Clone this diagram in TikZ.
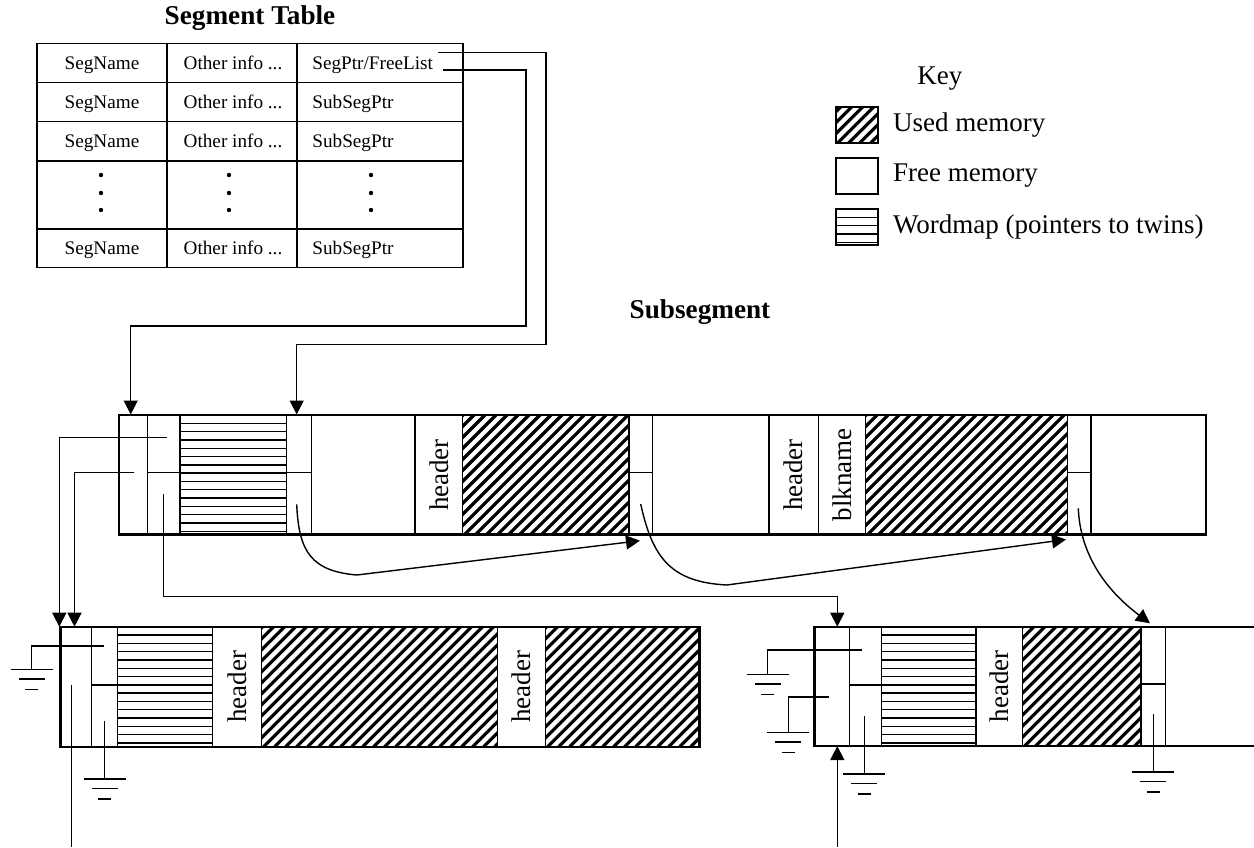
\documentclass[tikz,border=0pt]{standalone}
\usepackage{fontspec}
\setmainfont{Liberation Serif}
\usetikzlibrary{arrows.meta,calc}
% hatched block of used memory: x1 y1 x2 y2 (y2 = lower edge)
\newcommand{\usedmem}[4]{%
  \begin{scope}
    \clip (#1,#2) rectangle (#3,#4);
    \foreach \i in {0,...,40}
      \draw[line width=1.6pt] ({#1-130+11*\i},#4) -- ++(140,-140);
  \end{scope}}
% wordmap lines: x1 y1 x2 count
\newcommand{\wordmap}[4]{%
  \foreach \i in {1,...,#4}
    \draw[line width=0.7pt] (#1,{#2+8.3*\i}) -- (#3,{#2+8.3*\i});}
% ground symbol below a coordinate
\newcommand{\gnd}[1]{%
  \draw[line width=0.7pt] ($(#1)+(-21,0)$) -- ++(42,0)
        ($(#1)+(-13,9.5)$) -- ++(26,0)
        ($(#1)+(-6.5,20)$) -- ++(13,0);}

\begin{document}
\begin{tikzpicture}[x=0.5pt,y=-0.5pt,
    tbl/.style={font=\fontsize{9.6}{11}\selectfont,inner sep=1pt,anchor=base},
    keytxt/.style={font=\fontsize{13.5}{15}\selectfont,anchor=west,inner sep=0pt},
    ttl/.style={font=\fontsize{13.6}{15}\selectfont\bfseries},
    hdr/.style={rotate=90,font=\fontsize{13.5}{15}\selectfont,inner sep=0pt},
    box/.style={line width=1.2pt},
    cell/.style={line width=0.7pt},
    ptr/.style={line width=0.7pt},
    arr/.style={ptr,-{Triangle[length=7pt,width=7pt]}},
    dot/.style={circle,fill,inner sep=0pt,minimum size=2.2pt}]
  \useasboundingbox (0,0) rectangle (1254,847);

  % ---------------- segment table ----------------
  \node[ttl] (segtitle) at (250,18) {Segment Table};
  \draw[cell] (37,43.5) rectangle (463,267.5);
  \foreach \y in {82.5,121.7,160.8,229} \draw[cell] (37,\y) -- (463,\y);
  \foreach \x in {167,297} \draw[cell] (\x,43.5) -- (\x,267.5);
  \foreach \r/\y in {1/69,2/108,3/147.5,5/254.5} {
    \node[tbl] (nm\r) at (102,\y) {SegName};
    \node[tbl] (oi\r) at (233,\y) {Other info ...};
  }
  \node[tbl,anchor=base west] (fl) at (310,69) {SegPtr/FreeList};
  \foreach \r/\y in {2/108,3/147.5,5/254.5}
    \node[tbl,anchor=base west] (sp\r) at (310,\y) {SubSegPtr};
  \foreach \x in {101,229,371}
    \foreach \y in {175,193,210}
      \node[dot] (d\x-\y) at (\x,\y) {};

  % ---------------- key ----------------
  \node[keytxt] (keyttl) at (917,79) {Key};
  \usedmem{835.7}{107}{877.7}{143}
  \draw[line width=1pt] (835.7,107) rectangle (877.7,143);
  \node[keytxt] (kused) at (892.7,125) {Used memory};
  \draw[line width=1pt] (835.7,158) rectangle (877.7,194);
  \node[keytxt] (kfree) at (892.7,176) {Free memory};
  \wordmap{835.7}{209}{877.7}{4}
  \draw[line width=1pt] (835.7,209) rectangle (877.7,245);
  \node[keytxt] (kword) at (892.7,227) {Wordmap (pointers to twins)};

  % ---------------- subsegment ----------------
  \node[ttl] (subtitle) at (700,312) {Subsegment};
  \wordmap{180}{415}{286.7}{14}
  \usedmem{462.7}{415}{629}{534.3}
  \usedmem{865.7}{415}{1067.3}{534.3}
  \foreach \x in {147.3,180,286.7,311.7,415,462.7,629,652.3,769,818.3,865.7,1067.3,1091}
    \draw[cell] (\x,415) -- (\x,534.3);
  \foreach \xa/\xb in {147.3/180,286.7/311.7,629/652.3,1067.3/1091}
    \draw[cell] (\xa,472.7) -- (\xb,472.7);
  \draw[box] (119,415) rectangle (1205.7,534.3);
  \node[hdr] (h1) at (438.8,475) {header};
  \node[hdr] (h2) at (793.6,475) {header};
  \node[hdr] (bn) at (842,475) {blkname};

  % ---------------- lower left subsegment ----------------
  \wordmap{117.7}{626.7}{212.7}{14}
  \usedmem{261.7}{626.7}{497.3}{746.7}
  \usedmem{545.7}{626.7}{699.3}{746.7}
  \foreach \x in {91.3,117.7,212.7,261.7,497.3,545.7}
    \draw[cell] (\x,626.7) -- (\x,746.7);
  \draw[cell] (91.3,685) -- (117.7,685);
  \draw[box] (60.3,626.7) rectangle (699.3,746.7);
  \node[hdr] (h3) at (237.2,686.7) {header};
  \node[hdr] (h4) at (521.5,686.7) {header};

  % ---------------- lower right subsegment ----------------
  \wordmap{881.7}{626.7}{976}{14}
  \usedmem{1022.7}{626.7}{1141}{746}
  \foreach \x in {849.3,881.7,976,1022.7,1141,1165.7}
    \draw[cell] (\x,626.7) -- (\x,746);
  \draw[cell] (849.3,685) -- (881.7,685);
  \draw[cell] (1141,684) -- (1165.7,684);
  \draw[box] (1256,626.7) -- (814.3,626.7) -- (814.3,746) -- (1256,746);
  \node[hdr] (h5) at (999.3,686.3) {header};

  % ---------------- pointers ----------------
  \coordinate (flA) at (438,52.7);
  \coordinate (flB) at (443,70);
  \coordinate (tA) at (130.7,414.5);
  \coordinate (tB) at (296.7,414.5);
  \draw[arr] (flA) -- ++(108,0) |- ($(tB)+(0,-70.2)$) -- (tB);
  \draw[arr] (flB) -- ++(83,0) |- ($(tA)+(0,-88.5)$) -- (tA);

  \coordinate (pA) at (166.7,437.7);
  \coordinate (pB) at (134.3,472.7);
  \coordinate (pC) at (163.3,494.3);
  \coordinate (blA) at (59.3,626.7);
  \coordinate (blB) at (74.5,626.7);
  \coordinate (brA) at (837.3,626.7);
  \coordinate (brB) at (837.3,746);
  \draw[arr] (pA) -| (blA);
  \draw[arr] (pB) -| (blB);
  \draw[arr] (pC) |- ($(brA)+(0,-30)$) -- (brA);
  \draw[arr] (837.3,847) -- (brB);

  % next-block links under the bar
  \coordinate (c1s) at (296.7,504.3);
  \coordinate (c1e) at (640,540.7);
  \coordinate (c2s) at (640.7,504);
  \coordinate (c2e) at (1066,539.5);
  \coordinate (c3s) at (1078.3,508.3);
  \coordinate (c3e) at (1150,623.3);
  \draw[arr] (c1s) .. controls +(2,48) and +(-45,-4) .. (356.7,575) -- (c1e);
  \draw[arr] (c2s) .. controls +(12,55) and +(-55,-3) .. (726.7,585) -- (c2e);
  \draw[arr] (c3s) .. controls +(2,50) and +(-40,-30) .. (c3e);

  % grounded and open pointers in the lower blocks
  \coordinate (g1) at (31.7,669.3);
  \coordinate (g2) at (104.7,779);
  \draw[ptr] (103.7,646) -| (g1);
  \gnd{g1}
  \draw[ptr] (104.7,720.7) -- (g2);
  \gnd{g2}
  \draw[ptr] (71.7,685) -- (71.7,847);
  \coordinate (g3) at (767.7,674.3);
  \coordinate (g4) at (788.3,732.3);
  \coordinate (g5) at (864.3,774);
  \coordinate (g6) at (1153.3,772);
  \draw[ptr] (861.7,650) -| (g3);
  \gnd{g3}
  \draw[ptr] (829.3,697) -| (g4);
  \gnd{g4}
  \draw[ptr] (864.3,716) -- (g5);
  \gnd{g5}
  \draw[ptr] (1153.3,714) -- (g6);
  \gnd{g6}
\end{tikzpicture}
\end{document}
